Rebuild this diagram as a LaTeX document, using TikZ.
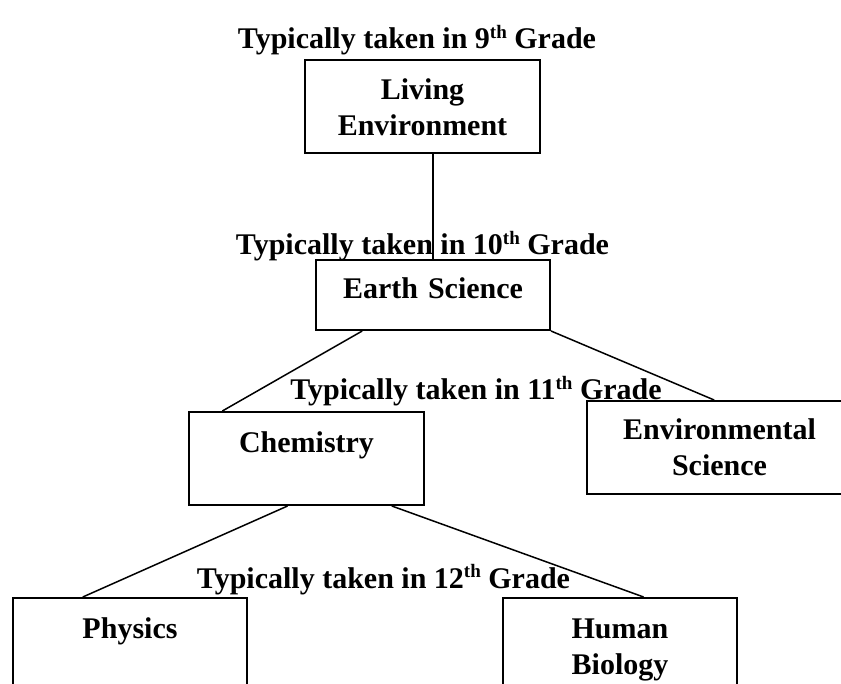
\documentclass[tikz,border=0pt]{standalone}
\usepackage{fontspec}
\setmainfont{Liberation Serif}
\usetikzlibrary{calc}

\newcommand\gradesup[1]{\raisebox{0.36em}{\fontsize{9.5}{9.5}\selectfont #1}}

\tikzset{
  grade/.style={anchor=base, inner sep=0pt,
    font=\bfseries\fontsize{15}{18}\selectfont},
  course/.style={draw=black, fill=white, line width=1pt,
    anchor=north west, inner sep=0pt,
    text width=117pt, align=center,
    text height=20pt, text depth=26.5pt,
    font=\bfseries\fontsize{15}{18}\selectfont},
  link/.style={line width=0.75pt}
}

\begin{document}
\begin{tikzpicture}[x=0.5pt, y=-0.5pt]
      \clip (0,0) rectangle (841,684);

      % grade headings
      \node [grade] (g9) at (417,49) {Typically taken in 9\gradesup{th} Grade};
      \node [grade] (g10) at (422.5,255) {Typically taken in 10\gradesup{th} Grade};
      \node [grade] (g11) at (476,400) {Typically taken in 11\gradesup{th} Grade};
      \node [grade] (g12) at (383.5,588) {Typically taken in 12\gradesup{th} Grade};

      % courses
      \node [course, text width=117.5pt] (le) at (304,59) {Living\\Environment};
      \node [course, text height=19.5pt, text depth=15.5pt] (es) at (315,259) {Earth Science};
      \node [course, text width=117.5pt] (chem) at (188,411) {Chemistry};
      \node [course, text width=132.5pt,
        text height=19pt, text depth=27.5pt] (env) at (586,400) {Environmental\\Science};
      \node [course] (phys) at (12,597) {Physics};
      \node [course] (hb) at (502,597) {Human\\Biology};

      \draw [link] (le.south -| es.north) -- (es.north);
      \draw [link] ($(es.south west)!0.2!(es.south east)$)
        -- ($(chem.north west)!0.145!(chem.north east)$);
      \draw [link] (es.south east) -- ($(env.north west)!0.48!(env.north east)$);
      \draw [link] ($(chem.south west)!0.42!(chem.south east)$)
        -- ($(phys.north west)!0.3!(phys.north east)$);
      \draw [link] ($(chem.south west)!0.86!(chem.south east)$)
        -- ($(hb.north west)!0.6!(hb.north east)$);
\end{tikzpicture}
\end{document}
